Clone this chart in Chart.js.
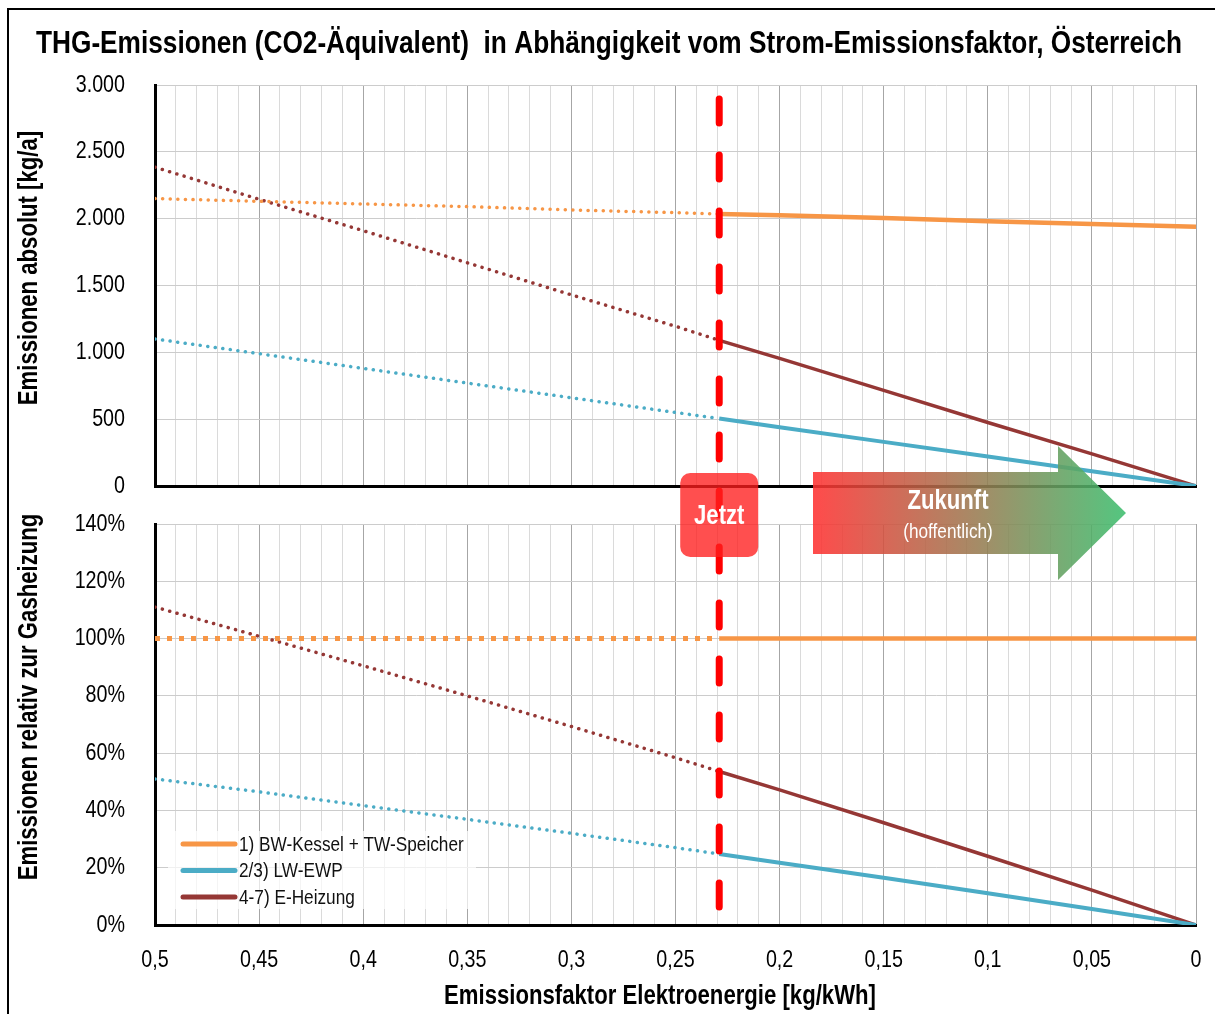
<!DOCTYPE html>
<html>
<head>
<meta charset="utf-8">
<script src="https://cdn.jsdelivr.net/npm/chart.js@4.4.1/dist/chart.umd.min.js"></script>
<style>
  html, body { margin: 0; padding: 0; background: #fff; overflow: hidden; }
  #wrap { position: relative; width: 1215px; height: 1014px; overflow: hidden; }
  #frame { position: absolute; left: 7px; top: 8px; width: 1300px; height: 1100px; border: 2px solid #000; }
  canvas { position: absolute; left: 0; top: 0; }
</style>
</head>
<body>
<div id="wrap">
  <div id="frame"></div>
  <canvas id="topChart" width="1215" height="1014"></canvas>
  <canvas id="bottomChart" width="1215" height="1014"></canvas>
</div>
<script>
const FONT = "'Liberation Sans', Arial, sans-serif";
const NARROW = 0.82; // Arial Narrow ~ 82% von Arial

// Strom-Emissionsfaktor [kg/kWh], aktueller Wert Österreich
const factors = [0.5, 0.45, 0.4, 0.35, 0.3, 0.25, 0.229, 0.2, 0.15, 0.1, 0.05, 0];
const now = 0.229;

// Emissionen absolut [kg/a]
const absKessel   = [2150, 2130, 2110, 2090, 2065, 2045, 2035, 2025, 2005, 1980, 1960, 1940];
const absEwp      = [1100, 990, 880, 770, 660, 550, 505, 440, 330, 220, 110, 0];
const absEHeizung = [2385, 2145, 1910, 1670, 1430, 1195, 1090, 955, 715, 475, 240, 0];

// Emissionen relativ zur Gasheizung [%]
const relKessel   = [100, 100, 100, 100, 100, 100, 100, 100, 100, 100, 100, 100];
const relEwp      = [51, 46.5, 41.7, 36.9, 32, 27, 24.8, 21.7, 16.5, 11.1, 5.6, 0];
const relEHeizung = [111, 100.8, 90.5, 80, 69.3, 58.4, 53.6, 47.2, 35.7, 24, 12.2, 0];

const seriesNames  = ['1) BW-Kessel + TW-Speicher', '2/3) LW-EWP', '4-7) E-Heizung'];
const seriesColors = ['#f79646', '#4bacc6', '#953735'];
const seriesWidths = [4.5, 4, 3.5];

const roundDots  = { dash: [0.1, 7.5], width: 3.5, cap: 'round' };
const squareDots = { dash: [5, 7], width: 5, cap: 'butt' };

// schmale Schrift nachbilden: Text horizontal stauchen
function narrowText(canvas) {
  const ctx = canvas.getContext('2d');
  const fill = ctx.fillText.bind(ctx);
  ctx.fillText = (t, x, y, maxWidth) => {
    const w = ctx.measureText(t).width * NARROW;
    fill(t, x, y, maxWidth === undefined ? w : Math.min(maxWidth, w));
  };
  return ctx;
}

function series(values, i, dots) {
  const past = c => c.p0.parsed.x > now + 1e-9;
  return {
    label: seriesNames[i],
    data: factors.map((x, k) => ({ x: x, y: values[k] })),
    borderColor: seriesColors[i],
    backgroundColor: seriesColors[i],
    borderWidth: seriesWidths[i],
    pointRadius: 0,
    segment: {
      borderDash: c => past(c) ? dots.dash : [],
      borderWidth: c => past(c) ? dots.width : seriesWidths[i],
      borderCapStyle: c => past(c) ? dots.cap : 'butt'
    }
  };
}

function isMajor(v) {
  return Math.abs(v * 20 - Math.round(v * 20)) < 1e-6;
}

function xAxis(showLabels) {
  return {
    type: 'linear', reverse: true, min: 0, max: 0.5,
    ticks: {
      display: showLabels, stepSize: 0.01, autoSkip: false, maxRotation: 0, padding: 21,
      maxTicksLimit: 100, color: '#000', font: { family: FONT, size: 24 },
      callback: v => isMajor(v) ? String(Math.round(v * 100) / 100).replace('.', ',') : ''
    },
    grid: {
      drawTicks: false, lineWidth: 1,
      color: c => (c.tick && isMajor(c.tick.value)) ? '#a6a6a6' : '#dadada'
    },
    border: { color: '#000', width: 3 },
    afterFit: s => {
      s.height = showLabels ? 1014 - 925 : 1014 - 486;
      s.paddingLeft = 0;
      s.paddingRight = 0;
    }
  };
}

function yAxis(max, step, fmt) {
  return {
    min: 0, max: max,
    ticks: {
      stepSize: step, padding: 30, color: '#000', font: { family: FONT, size: 24 },
      callback: fmt
    },
    grid: { drawTicks: false, color: '#cccccc', lineWidth: 1 },
    border: { color: '#000', width: 3 },
    afterFit: s => { s.width = 133; }
  };
}

function thousands(v) {
  return String(v).replace(/\B(?=(\d{3})+(?!\d))/g, '.');
}

function vText(ctx, text, x, y) {
  ctx.save();
  ctx.translate(x, y);
  ctx.rotate(-Math.PI / 2);
  ctx.textAlign = 'center';
  ctx.textBaseline = 'middle';
  ctx.fillText(text, 0, 0);
  ctx.restore();
}

// Achsentitel oben
const topTitles = {
  id: 'topTitles',
  afterDraw(chart) {
    const ctx = chart.ctx;
    ctx.save();
    ctx.fillStyle = '#000';
    ctx.font = 'bold 27px ' + FONT;
    vText(ctx, 'Emissionen absolut [kg/a]', 30, 268);
    ctx.restore();
  }
};

// Achsentitel, Legende, Markierung "Jetzt", Pfeil "Zukunft"
const overlay = {
  id: 'overlay',
  afterDraw(chart) {
    const ctx = chart.ctx;
    const xNow = chart.scales.x.getPixelForValue(now);
    ctx.save();

    ctx.fillStyle = '#000';
    ctx.font = 'bold 27px ' + FONT;
    vText(ctx, 'Emissionen relativ zur Gasheizung', 30, 697);
    ctx.textAlign = 'center';
    ctx.textBaseline = 'middle';
    ctx.fillText('Emissionsfaktor Elektroenergie [kg/kWh]', 660, 997);

    // Legende
    ctx.fillStyle = 'rgba(255,255,255,0.7)';
    ctx.fillRect(168, 831, 308, 78);
    ctx.textAlign = 'left';
    chart.data.datasets.forEach((ds, i) => {
      const y = 844 + i * 26.5;
      ctx.strokeStyle = ds.borderColor;
      ctx.lineWidth = 5;
      ctx.lineCap = 'round';
      ctx.beginPath();
      ctx.moveTo(183, y);
      ctx.lineTo(235, y);
      ctx.stroke();
      ctx.fillStyle = '#111';
      ctx.font = '21px ' + FONT;
      ctx.fillText(ds.label, 239, y + 1);
    });

    // gestrichelte Linie "Jetzt"
    ctx.strokeStyle = '#ff0000';
    ctx.lineWidth = 7;
    ctx.lineCap = 'round';
    ctx.setLineDash([24, 32]);
    ctx.beginPath();
    ctx.moveTo(xNow, 99);
    ctx.lineTo(xNow, 925);
    ctx.stroke();
    ctx.setLineDash([]);

    // Box "Jetzt"
    ctx.fillStyle = 'rgba(255,30,30,0.78)';
    ctx.beginPath();
    ctx.roundRect(xNow - 39, 473, 78, 84, 10);
    ctx.fill();
    ctx.fillStyle = '#fff';
    ctx.font = 'bold 27px ' + FONT;
    ctx.textAlign = 'center';
    ctx.fillText('Jetzt', xNow, 517);

    // Pfeil "Zukunft"
    const g = ctx.createLinearGradient(813, 0, 1126, 0);
    g.addColorStop(0, 'rgba(255,50,50,0.88)');
    g.addColorStop(1, 'rgba(60,190,110,0.88)');
    ctx.fillStyle = g;
    ctx.beginPath();
    ctx.moveTo(813, 472);
    ctx.lineTo(1058, 472);
    ctx.lineTo(1058, 446);
    ctx.lineTo(1126, 513);
    ctx.lineTo(1058, 580);
    ctx.lineTo(1058, 554);
    ctx.lineTo(813, 554);
    ctx.closePath();
    ctx.fill();
    ctx.fillStyle = '#fff';
    ctx.font = 'bold 27px ' + FONT;
    ctx.fillText('Zukunft', 948, 502);
    ctx.font = '21px ' + FONT;
    ctx.fillText('(hoffentlich)', 948, 532);

    ctx.restore();
  }
};

Chart.defaults.animation = false;
Chart.defaults.font.family = FONT;

new Chart(narrowText(document.getElementById('topChart')), {
  type: 'line',
  data: {
    datasets: [
      series(absKessel, 0, roundDots),
      series(absEwp, 1, roundDots),
      series(absEHeizung, 2, roundDots)
    ]
  },
  options: {
    responsive: false,
    layout: { padding: { left: 22, right: 19, top: 0, bottom: 0 } },
    plugins: {
      legend: { display: false },
      tooltip: { enabled: false },
      title: {
        display: true,
        text: 'THG-Emissionen (CO2-Äquivalent)  in Abhängigkeit vom Strom-Emissionsfaktor, Österreich',
        color: '#000',
        font: { family: FONT, size: 32, weight: 'bold' },
        padding: { top: 25, bottom: 21.6 }
      }
    },
    scales: {
      x: xAxis(false),
      y: yAxis(3000, 500, v => thousands(v))
    }
  },
  plugins: [topTitles]
});

new Chart(narrowText(document.getElementById('bottomChart')), {
  type: 'line',
  data: {
    datasets: [
      series(relKessel, 0, squareDots),
      series(relEwp, 1, roundDots),
      series(relEHeizung, 2, roundDots)
    ]
  },
  options: {
    responsive: false,
    layout: { padding: { left: 22, right: 19, top: 524, bottom: 0 } },
    plugins: {
      legend: { display: false },
      tooltip: { enabled: false }
    },
    scales: {
      x: xAxis(true),
      y: yAxis(140, 20, v => v + '%')
    }
  },
  plugins: [overlay]
});
</script>
</body>
</html>
